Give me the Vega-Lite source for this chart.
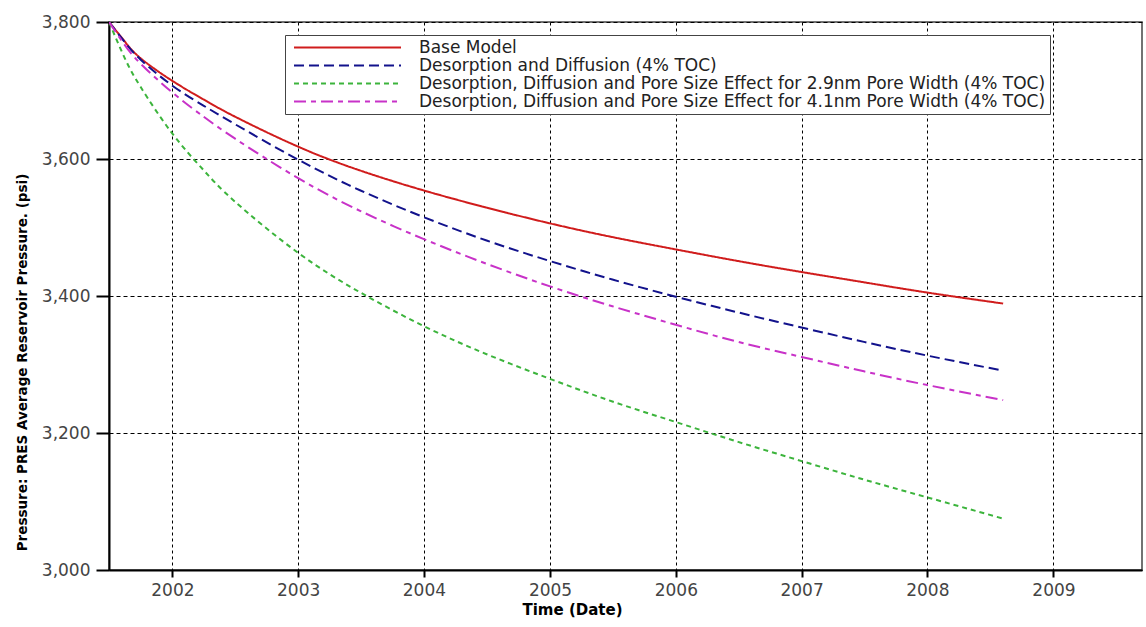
{
  "$schema": "https://vega.github.io/schema/vega-lite/v6.json",
  "width": 1033,
  "height": 548,
  "autosize": "none",
  "padding": {"left": 109, "top": 22, "right": 4, "bottom": 57},
  "background": "white",
  "config": {
    "font": "DejaVu Sans",
    "view": {"stroke": "#444", "strokeWidth": 1.5}
  },
  "datasets": {
    "series": [
      {"s": "Base Model", "date": "2001-07-01", "p": 3800},
      {"s": "Base Model", "date": "2001-08-15", "p": 3772},
      {"s": "Base Model", "date": "2001-10-01", "p": 3747},
      {"s": "Base Model", "date": "2002-01-01", "p": 3714},
      {"s": "Base Model", "date": "2002-04-01", "p": 3687},
      {"s": "Base Model", "date": "2002-07-01", "p": 3662},
      {"s": "Base Model", "date": "2003-01-01", "p": 3618},
      {"s": "Base Model", "date": "2003-07-01", "p": 3583},
      {"s": "Base Model", "date": "2004-01-01", "p": 3554},
      {"s": "Base Model", "date": "2004-07-01", "p": 3529},
      {"s": "Base Model", "date": "2005-01-01", "p": 3506},
      {"s": "Base Model", "date": "2005-07-01", "p": 3486},
      {"s": "Base Model", "date": "2006-01-01", "p": 3468},
      {"s": "Base Model", "date": "2006-07-01", "p": 3451},
      {"s": "Base Model", "date": "2007-01-01", "p": 3435},
      {"s": "Base Model", "date": "2007-07-01", "p": 3420},
      {"s": "Base Model", "date": "2008-01-01", "p": 3405},
      {"s": "Base Model", "date": "2008-08-08", "p": 3389},
      {"s": "Desorption and Diffusion (4% TOC)", "date": "2001-07-01", "p": 3800},
      {"s": "Desorption and Diffusion (4% TOC)", "date": "2001-08-15", "p": 3771},
      {"s": "Desorption and Diffusion (4% TOC)", "date": "2001-10-01", "p": 3745},
      {"s": "Desorption and Diffusion (4% TOC)", "date": "2002-01-01", "p": 3707},
      {"s": "Desorption and Diffusion (4% TOC)", "date": "2002-04-01", "p": 3678},
      {"s": "Desorption and Diffusion (4% TOC)", "date": "2002-07-01", "p": 3651},
      {"s": "Desorption and Diffusion (4% TOC)", "date": "2003-01-01", "p": 3599},
      {"s": "Desorption and Diffusion (4% TOC)", "date": "2003-07-01", "p": 3554},
      {"s": "Desorption and Diffusion (4% TOC)", "date": "2004-01-01", "p": 3515},
      {"s": "Desorption and Diffusion (4% TOC)", "date": "2004-07-01", "p": 3481},
      {"s": "Desorption and Diffusion (4% TOC)", "date": "2005-01-01", "p": 3451},
      {"s": "Desorption and Diffusion (4% TOC)", "date": "2005-07-01", "p": 3424},
      {"s": "Desorption and Diffusion (4% TOC)", "date": "2006-01-01", "p": 3399},
      {"s": "Desorption and Diffusion (4% TOC)", "date": "2006-07-01", "p": 3376},
      {"s": "Desorption and Diffusion (4% TOC)", "date": "2007-01-01", "p": 3354},
      {"s": "Desorption and Diffusion (4% TOC)", "date": "2007-07-01", "p": 3333},
      {"s": "Desorption and Diffusion (4% TOC)", "date": "2008-01-01", "p": 3313},
      {"s": "Desorption and Diffusion (4% TOC)", "date": "2008-08-08", "p": 3291},
      {"s": "Desorption, Diffusion and Pore Size Effect for 2.9nm Pore Width (4% TOC)", "date": "2001-07-01", "p": 3800},
      {"s": "Desorption, Diffusion and Pore Size Effect for 2.9nm Pore Width (4% TOC)", "date": "2001-08-15", "p": 3748},
      {"s": "Desorption, Diffusion and Pore Size Effect for 2.9nm Pore Width (4% TOC)", "date": "2001-10-01", "p": 3705},
      {"s": "Desorption, Diffusion and Pore Size Effect for 2.9nm Pore Width (4% TOC)", "date": "2002-01-01", "p": 3637},
      {"s": "Desorption, Diffusion and Pore Size Effect for 2.9nm Pore Width (4% TOC)", "date": "2002-04-01", "p": 3584},
      {"s": "Desorption, Diffusion and Pore Size Effect for 2.9nm Pore Width (4% TOC)", "date": "2002-07-01", "p": 3538},
      {"s": "Desorption, Diffusion and Pore Size Effect for 2.9nm Pore Width (4% TOC)", "date": "2003-01-01", "p": 3463},
      {"s": "Desorption, Diffusion and Pore Size Effect for 2.9nm Pore Width (4% TOC)", "date": "2003-07-01", "p": 3405},
      {"s": "Desorption, Diffusion and Pore Size Effect for 2.9nm Pore Width (4% TOC)", "date": "2004-01-01", "p": 3356},
      {"s": "Desorption, Diffusion and Pore Size Effect for 2.9nm Pore Width (4% TOC)", "date": "2004-07-01", "p": 3315},
      {"s": "Desorption, Diffusion and Pore Size Effect for 2.9nm Pore Width (4% TOC)", "date": "2005-01-01", "p": 3279},
      {"s": "Desorption, Diffusion and Pore Size Effect for 2.9nm Pore Width (4% TOC)", "date": "2005-07-01", "p": 3246},
      {"s": "Desorption, Diffusion and Pore Size Effect for 2.9nm Pore Width (4% TOC)", "date": "2006-01-01", "p": 3216},
      {"s": "Desorption, Diffusion and Pore Size Effect for 2.9nm Pore Width (4% TOC)", "date": "2006-07-01", "p": 3187},
      {"s": "Desorption, Diffusion and Pore Size Effect for 2.9nm Pore Width (4% TOC)", "date": "2007-01-01", "p": 3159},
      {"s": "Desorption, Diffusion and Pore Size Effect for 2.9nm Pore Width (4% TOC)", "date": "2007-07-01", "p": 3132},
      {"s": "Desorption, Diffusion and Pore Size Effect for 2.9nm Pore Width (4% TOC)", "date": "2008-01-01", "p": 3106},
      {"s": "Desorption, Diffusion and Pore Size Effect for 2.9nm Pore Width (4% TOC)", "date": "2008-08-08", "p": 3075},
      {"s": "Desorption, Diffusion and Pore Size Effect for 4.1nm Pore Width (4% TOC)", "date": "2001-07-01", "p": 3800},
      {"s": "Desorption, Diffusion and Pore Size Effect for 4.1nm Pore Width (4% TOC)", "date": "2001-08-15", "p": 3767},
      {"s": "Desorption, Diffusion and Pore Size Effect for 4.1nm Pore Width (4% TOC)", "date": "2001-10-01", "p": 3739},
      {"s": "Desorption, Diffusion and Pore Size Effect for 4.1nm Pore Width (4% TOC)", "date": "2002-01-01", "p": 3697},
      {"s": "Desorption, Diffusion and Pore Size Effect for 4.1nm Pore Width (4% TOC)", "date": "2002-04-01", "p": 3662},
      {"s": "Desorption, Diffusion and Pore Size Effect for 4.1nm Pore Width (4% TOC)", "date": "2002-07-01", "p": 3630},
      {"s": "Desorption, Diffusion and Pore Size Effect for 4.1nm Pore Width (4% TOC)", "date": "2003-01-01", "p": 3572},
      {"s": "Desorption, Diffusion and Pore Size Effect for 4.1nm Pore Width (4% TOC)", "date": "2003-07-01", "p": 3524},
      {"s": "Desorption, Diffusion and Pore Size Effect for 4.1nm Pore Width (4% TOC)", "date": "2004-01-01", "p": 3483},
      {"s": "Desorption, Diffusion and Pore Size Effect for 4.1nm Pore Width (4% TOC)", "date": "2004-07-01", "p": 3447},
      {"s": "Desorption, Diffusion and Pore Size Effect for 4.1nm Pore Width (4% TOC)", "date": "2005-01-01", "p": 3414},
      {"s": "Desorption, Diffusion and Pore Size Effect for 4.1nm Pore Width (4% TOC)", "date": "2005-07-01", "p": 3385},
      {"s": "Desorption, Diffusion and Pore Size Effect for 4.1nm Pore Width (4% TOC)", "date": "2006-01-01", "p": 3358},
      {"s": "Desorption, Diffusion and Pore Size Effect for 4.1nm Pore Width (4% TOC)", "date": "2006-07-01", "p": 3333},
      {"s": "Desorption, Diffusion and Pore Size Effect for 4.1nm Pore Width (4% TOC)", "date": "2007-01-01", "p": 3311},
      {"s": "Desorption, Diffusion and Pore Size Effect for 4.1nm Pore Width (4% TOC)", "date": "2007-07-01", "p": 3290},
      {"s": "Desorption, Diffusion and Pore Size Effect for 4.1nm Pore Width (4% TOC)", "date": "2008-01-01", "p": 3270},
      {"s": "Desorption, Diffusion and Pore Size Effect for 4.1nm Pore Width (4% TOC)", "date": "2008-08-08", "p": 3248}
    ]
  },
  "data": {"name": "series"},
  "mark": {"type": "line", "strokeWidth": 2, "interpolate": "natural", "clip": true},
  "encoding": {
    "x": {
      "field": "date",
      "type": "temporal",
      "scale": {"type": "utc", "domain": ["2001-07-01", "2009-09-15"]},
      "axis": {
        "tickCount": "year",
        "format": "%Y",
        "labelFontSize": 17,
        "labelColor": "#444",
        "labelPadding": 5,
        "domainColor": "black",
        "domainWidth": 2,
        "tickColor": "black",
        "tickWidth": 2,
        "tickSize": 7,
        "grid": true,
        "gridColor": "black",
        "gridDash": [3, 3],
        "gridWidth": 1,
        "gridOpacity": 1,
        "title": "Time (Date)",
        "titleFontSize": 15,
        "titleFontWeight": "bold",
        "titleColor": "black",
        "titleX": 463,
        "titleY": 39,
        "titleBaseline": "middle",
        "titleAlign": "center"
      }
    },
    "y": {
      "field": "p",
      "type": "quantitative",
      "scale": {"domain": [3000, 3800], "nice": false, "zero": false},
      "axis": {
        "values": [3000, 3200, 3400, 3600, 3800],
        "format": ",.0f",
        "labelFontSize": 17,
        "labelColor": "#444",
        "labelPadding": 6,
        "domainColor": "black",
        "domainWidth": 2,
        "tickColor": "black",
        "tickWidth": 2,
        "tickSize": 13,
        "grid": true,
        "gridColor": "black",
        "gridDash": [4, 3],
        "gridWidth": 1,
        "gridOpacity": 1,
        "title": "Pressure: PRES Average Reservoir Pressure. (psi)",
        "titleFontSize": 13.5,
        "titleFontWeight": "bold",
        "titleColor": "black",
        "titleX": -87,
        "titleY": 340,
        "titleAngle": 270,
        "titleAlign": "center",
        "titleBaseline": "middle"
      }
    },
    "color": {
      "field": "s",
      "type": "nominal",
      "sort": null,
      "scale": {
        "domain": [
          "Base Model",
          "Desorption and Diffusion (4% TOC)",
          "Desorption, Diffusion and Pore Size Effect for 2.9nm Pore Width (4% TOC)",
          "Desorption, Diffusion and Pore Size Effect for 4.1nm Pore Width (4% TOC)"
        ],
        "range": ["#d01c1c", "#12128c", "#3cb43c", "#c832c8"]
      },
      "legend": {
        "title": null,
        "orient": "none",
        "legendX": 176,
        "legendY": 13,
        "direction": "vertical",
        "fillColor": "white",
        "strokeColor": "#444",
        "padding": 4,
        "labelFontSize": 17,
        "labelColor": "#222",
        "labelLimit": 1000,
        "labelOffset": 17,
        "symbolType": "stroke",
        "symbolSize": 11449,
        "symbolStrokeWidth": 2,
        "symbolOffset": 4,
        "clipHeight": 17,
        "rowPadding": 0
      }
    },
    "strokeDash": {
      "field": "s",
      "type": "nominal",
      "sort": null,
      "scale": {
        "domain": [
          "Base Model",
          "Desorption and Diffusion (4% TOC)",
          "Desorption, Diffusion and Pore Size Effect for 2.9nm Pore Width (4% TOC)",
          "Desorption, Diffusion and Pore Size Effect for 4.1nm Pore Width (4% TOC)"
        ],
        "range": [[1, 0], [10, 5], [5, 4], [12, 5, 5, 5]]
      },
      "legend": {
        "title": null,
        "orient": "none",
        "legendX": 176,
        "legendY": 13,
        "direction": "vertical",
        "fillColor": "white",
        "strokeColor": "#444",
        "padding": 4,
        "labelFontSize": 17,
        "labelColor": "#222",
        "labelLimit": 1000,
        "labelOffset": 17,
        "symbolType": "stroke",
        "symbolSize": 11449,
        "symbolStrokeWidth": 2,
        "symbolOffset": 4,
        "clipHeight": 17,
        "rowPadding": 0
      }
    }
  }
}
